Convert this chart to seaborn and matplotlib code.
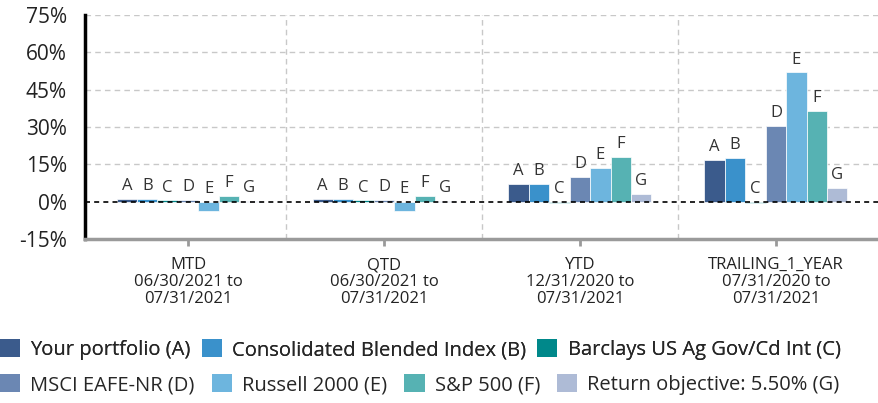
import seaborn as sns
import pandas as pd
import numpy as np
import matplotlib.pyplot as plt
from matplotlib.patches import Patch

sns.set_theme(style='white')
plt.rcParams['font.family'] = ['Open Sans', 'DejaVu Sans']

periods = ['MTD\n06/30/2021 to\n07/31/2021',
           'QTD\n06/30/2021 to\n07/31/2021',
           'YTD\n12/31/2020 to\n07/31/2021',
           'TRAILING_1_YEAR\n07/31/2020 to\n07/31/2021']
series = ['Your portfolio (A)', 'Consolidated Blended Index (B)', 'Barclays US Ag Gov/Cd Int (C)',
          'MSCI EAFE-NR (D)', 'Russell 2000 (E)', 'S&P 500 (F)', 'Return objective: 5.50% (G)']
letters = ['A', 'B', 'C', 'D', 'E', 'F', 'G']
colors = ['#3b5b8c', '#3a91cb', '#00888a', '#6b87b3', '#6db5de', '#56b2b3', '#aebbd6']

# returns in %, one list per series (MTD, QTD, YTD, 1 year)
port_a = [1.0, 1.0, 7.0, 16.7]
blend_b = [1.0, 1.0, 7.0, 17.4]
barclays_c = [0.5, 0.5, -0.6, -0.6]
eafe_d = [0.6, 0.6, 9.8, 30.3]
russell_e = [-3.6, -3.6, 13.4, 51.9]
sp_f = [2.3, 2.3, 17.9, 36.4]
objective_g = [0.45, 0.45, 3.2, 5.5]

values = [port_a, blend_b, barclays_c, eafe_d, russell_e, sp_f, objective_g]
df = pd.DataFrame([(p, s, v[i]) for s, v in zip(series, values) for i, p in enumerate(periods)],
                  columns=['Period', 'Series', 'Return'])

fig = plt.figure(figsize=(8.79, 4.03), dpi=100)
ax = fig.add_axes([0.0967, 0.407, 0.9033, 0.556])

sns.barplot(data=df, x='Period', y='Return', hue='Series', order=periods, hue_order=series,
            palette=colors, saturation=1, width=0.73, edgecolor='white', linewidth=0.5,
            ax=ax, legend=False)

# letter labels above each bar (or above zero line for negatives)
for cont, let in zip(ax.containers, letters):
    for rect in cont:
        h = rect.get_height()
        ax.annotate(let, (rect.get_x() + rect.get_width() / 2, max(h, 0)),
                    xytext=(0, 3.5), textcoords='offset points', ha='center', va='bottom',
                    fontsize=12, color='#333333')

ax.set_ylim(-15, 75)
ax.set_xlim(-0.526, 3.526)
ax.set_yticks(np.arange(-15, 76, 15))
ax.set_yticklabels([f'{t}%' for t in range(-15, 76, 15)])
for t in range(-15, 76, 15):
    if t not in (-15, 0):
        ax.axhline(t, color='#c8c8c8', lw=1, ls=(0, (4, 3)), zorder=0)
for xv in [0.5, 1.5, 2.5]:
    ax.axvline(xv, color='#c8c8c8', lw=1, ls=(0, (4, 3)), zorder=0)
ax.axhline(0, color='black', lw=1.2, ls=(0, (3, 2.5)), zorder=5)

ax.set_xlabel('')
ax.set_ylabel('')
sns.despine(ax=ax)
ax.spines['left'].set_color('black')
ax.spines['left'].set_linewidth(2.5)
ax.spines['bottom'].set_color('#9a9a9a')
ax.spines['bottom'].set_linewidth(2.5)
ax.tick_params(axis='y', length=0, pad=13, labelsize=15, labelcolor='#222222')
ax.tick_params(axis='x', length=5, width=2, color='#9a9a9a', direction='out', pad=8,
               labelsize=12, labelcolor='#222222', bottom=True)
for lab in ax.get_xticklabels():
    lab.set_linespacing(1.1)

handles = [Patch(facecolor=c, edgecolor='none') for c in colors]
leg_kw = dict(frameon=False, fontsize=14.5, handlelength=1.0, handleheight=1.0,
              handletextpad=0.5, borderpad=0.1, borderaxespad=0)
leg1 = fig.legend(handles[:3], series[:3], loc='center left', bbox_to_anchor=(-0.002, 0.132),
                  ncol=3, columnspacing=0.55, **leg_kw)
fig.add_artist(leg1)
fig.legend(handles[3:], series[3:], loc='center left', bbox_to_anchor=(-0.002, 0.045),
           ncol=4, columnspacing=0.85, **leg_kw)

plt.savefig('out.png', dpi=100)
